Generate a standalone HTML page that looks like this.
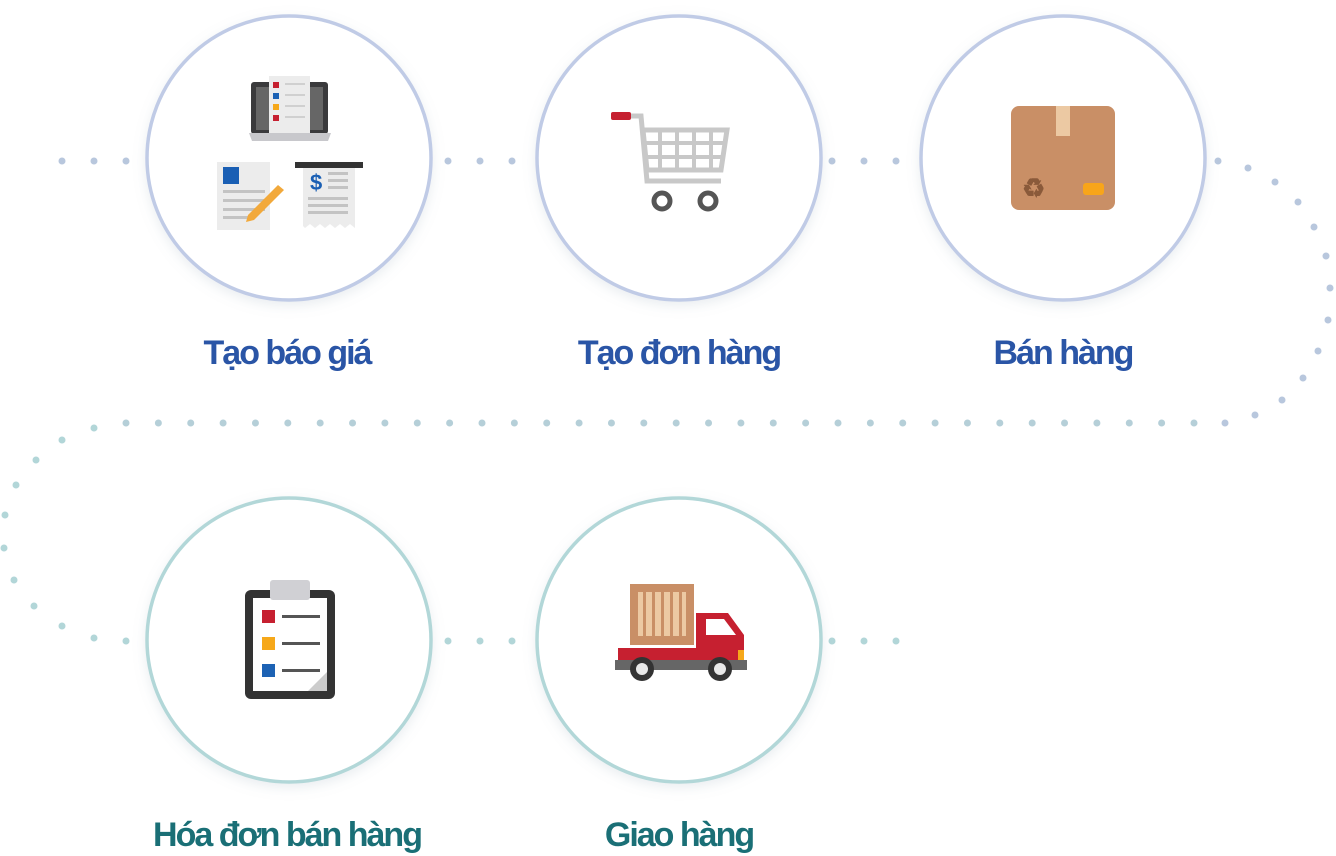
<!DOCTYPE html>
<html><head><meta charset="utf-8"><style>
body{margin:0;background:#fff;width:1336px;height:856px;overflow:hidden}
svg{display:block}
text{font-family:"Liberation Sans",sans-serif;font-weight:bold;letter-spacing:-2px}
</style></head><body>
<svg width="1336" height="856" viewBox="0 0 1336 856">
<defs>
<filter id="sh" x="-20%" y="-20%" width="140%" height="140%"><feDropShadow dx="0" dy="4" stdDeviation="6" flood-color="#8899aa" flood-opacity="0.18"/></filter>
</defs>
<g fill="#b8c7dd">
<circle cx="62" cy="161" r="3.5"/><circle cx="94" cy="161" r="3.5"/><circle cx="126" cy="161" r="3.5"/>
<circle cx="448" cy="161" r="3.5"/><circle cx="480" cy="161" r="3.5"/><circle cx="512" cy="161" r="3.5"/>
<circle cx="832" cy="161" r="3.5"/><circle cx="864" cy="161" r="3.5"/><circle cx="896" cy="161" r="3.5"/>
<circle cx="1218" cy="161" r="3.5"/><circle cx="1248" cy="168" r="3.5"/><circle cx="1275" cy="182" r="3.5"/><circle cx="1298" cy="202" r="3.5"/><circle cx="1314" cy="227" r="3.5"/><circle cx="1326" cy="256" r="3.5"/><circle cx="1330" cy="288" r="3.5"/><circle cx="1328" cy="320" r="3.5"/><circle cx="1318" cy="351" r="3.5"/><circle cx="1303" cy="378" r="3.5"/><circle cx="1282" cy="400" r="3.5"/><circle cx="1255" cy="415" r="3.5"/><circle cx="1225" cy="423" r="3.5"/>
</g>
<g fill="#b5cfd8" id="row"></g>
<g fill="#b2d6d8">
<circle cx="94" cy="428" r="3.5"/><circle cx="62" cy="440" r="3.5"/><circle cx="36" cy="460" r="3.5"/><circle cx="16" cy="485" r="3.5"/><circle cx="5" cy="515" r="3.5"/><circle cx="4" cy="548" r="3.5"/><circle cx="14" cy="580" r="3.5"/><circle cx="34" cy="606" r="3.5"/><circle cx="62" cy="626" r="3.5"/><circle cx="94" cy="638" r="3.5"/><circle cx="126" cy="641" r="3.5"/>
<circle cx="448" cy="641" r="3.5"/><circle cx="480" cy="641" r="3.5"/><circle cx="512" cy="641" r="3.5"/>
<circle cx="832" cy="641" r="3.5"/><circle cx="864" cy="641" r="3.5"/><circle cx="896" cy="641" r="3.5"/>
</g>
<g fill="#fff" stroke-width="3.5" filter="url(#sh)">
<circle cx="289" cy="158" r="142" stroke="#c0cbe6"/>
<circle cx="679" cy="158" r="142" stroke="#c0cbe6"/>
<circle cx="1063" cy="158" r="142" stroke="#c0cbe6"/>
<circle cx="289" cy="640" r="142" stroke="#b2d7d8"/>
<circle cx="679" cy="640" r="142" stroke="#b2d7d8"/>
</g>
<!-- icon 1 -->
<rect x="251" y="82" width="77" height="52" rx="3" fill="#3a3a3c"/>
<rect x="256" y="87" width="67" height="43" fill="#666"/>
<path d="M249 133h82l-3 8h-76z" fill="#c8c8cc"/>
<rect x="269" y="76" width="41" height="57" fill="#ececec"/>
<rect x="273" y="82" width="6" height="6" fill="#c62030"/><rect x="273" y="93" width="6" height="6" fill="#1d62b4"/><rect x="273" y="104" width="6" height="6" fill="#f6a81a"/><rect x="273" y="115" width="6" height="6" fill="#c62030"/>
<g fill="#d0d0d0"><rect x="285" y="83" width="20" height="2"/><rect x="285" y="94" width="20" height="2"/><rect x="285" y="105" width="20" height="2"/><rect x="285" y="116" width="20" height="2"/></g>
<rect x="217" y="162" width="53" height="68" fill="#ececec"/>
<rect x="223" y="167" width="16" height="17" fill="#1a5fb4"/>
<g fill="#c3c3c3"><rect x="223" y="190" width="42" height="3"/><rect x="223" y="199" width="42" height="3"/><rect x="223" y="208" width="42" height="3"/><rect x="223" y="216" width="28" height="3"/></g>
<path d="M248 215l30-30 6 5-30 30-8 2z" fill="#f2a93b"/>
<rect x="295" y="162" width="68" height="6" fill="#333"/>
<path d="M303 168h52v60l-5-4-5 4-5-4-5 4-5-4-5 4-5-4-5 4-5-4-5 4-2-2z" fill="#ececec"/>
<text x="310" y="190" fill="#1a5fb4" font-size="22" style="letter-spacing:0">$</text>
<g fill="#c3c3c3"><rect x="328" y="172" width="20" height="3"/><rect x="328" y="179" width="20" height="3"/><rect x="328" y="186" width="20" height="3"/><rect x="308" y="197" width="40" height="3"/><rect x="308" y="204" width="40" height="3"/><rect x="308" y="211" width="40" height="3"/></g>
<!-- cart -->
<rect x="611" y="112" width="20" height="8" rx="2" fill="#c62030"/>
<path d="M631 116h10l6 65h74" fill="none" stroke="#c8c8c8" stroke-width="5"/>
<path d="M643 130h84l-6 40h-74z" fill="none" stroke="#c8c8c8" stroke-width="5"/>
<path d="M644 143h82M645 157h79M660 130v40M677 130v40M694 130v40M711 130v40" stroke="#c8c8c8" stroke-width="4"/>
<circle cx="662" cy="201" r="8" fill="none" stroke="#555" stroke-width="5"/><circle cx="708" cy="201" r="8" fill="none" stroke="#555" stroke-width="5"/>
<!-- box -->
<rect x="1011" y="106" width="104" height="104" rx="8" fill="#c98f66"/>
<rect x="1056" y="106" width="14" height="30" fill="#ecc9a3"/>
<rect x="1083" y="183" width="21" height="12" rx="3" fill="#f8a51a"/>
<text x="1022" y="197" font-size="26" fill="#8a5a3a" style="letter-spacing:0">♻</text>
<!-- clipboard -->
<rect x="245" y="590" width="90" height="109" rx="6" fill="#333"/>
<rect x="253" y="598" width="74" height="93" fill="#fff"/>
<path d="M308 691l19-19v19z" fill="#ccc"/>
<rect x="270" y="580" width="40" height="20" rx="3" fill="#d0d0d4"/>
<rect x="262" y="610" width="13" height="13" fill="#c62030"/><rect x="262" y="637" width="13" height="13" fill="#f6a81a"/><rect x="262" y="664" width="13" height="13" fill="#1d62b4"/>
<g fill="#555"><rect x="282" y="615" width="38" height="3"/><rect x="282" y="642" width="38" height="3"/><rect x="282" y="669" width="38" height="3"/></g>
<!-- truck -->
<rect x="630" y="584" width="64" height="61" fill="#c98f66"/>
<rect x="638" y="592" width="48" height="44" fill="#ecc9a3"/>
<g fill="#c98f66"><rect x="643" y="592" width="3" height="44"/><rect x="652" y="592" width="3" height="44"/><rect x="661" y="592" width="3" height="44"/><rect x="670" y="592" width="3" height="44"/><rect x="679" y="592" width="3" height="44"/></g>
<path d="M618 648h78v-35h32l16 22v26h-126z" fill="#c62030"/>
<path d="M706 619h18l12 16h-30z" fill="#fff"/>
<rect x="738" y="650" width="6" height="10" fill="#f6a81a"/>
<rect x="615" y="660" width="132" height="10" fill="#666"/>
<circle cx="642" cy="669" r="12" fill="#333"/><circle cx="642" cy="669" r="6" fill="#e8e8e8"/>
<circle cx="720" cy="669" r="12" fill="#333"/><circle cx="720" cy="669" r="6" fill="#e8e8e8"/>
<g font-size="34" text-anchor="middle" fill="#2a55a6">
<text x="287" y="364">Tạo báo giá</text>
<text x="679" y="364">Tạo đơn hàng</text>
<text x="1063" y="364">Bán hàng</text>
</g>
<g font-size="34" text-anchor="middle" fill="#1a6f76">
<text x="287" y="846">Hóa đơn bán hàng</text>
<text x="679" y="846">Giao hàng</text>
</g>
</svg>
<script>
var g=document.getElementById('row'),n=34;
for(var i=0;i<n;i++){var x=1194-(1194-126)*i/(n-1);var c=document.createElementNS('http://www.w3.org/2000/svg','circle');c.setAttribute('cx',x);c.setAttribute('cy',423);c.setAttribute('r',3.5);g.appendChild(c);}
</script>
</body></html>
